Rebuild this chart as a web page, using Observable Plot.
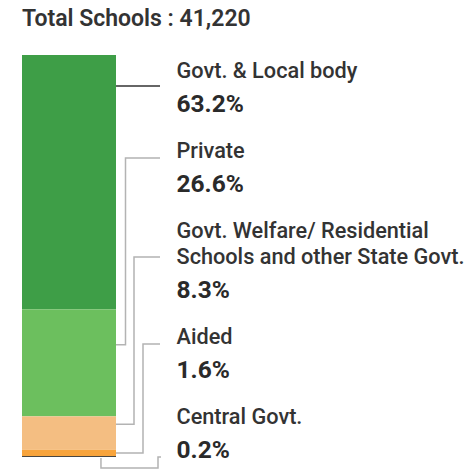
<!DOCTYPE html>
<html>
<head>
<meta charset="utf-8">
<script src="https://cdn.jsdelivr.net/npm/d3@7"></script>
<script src="https://cdn.jsdelivr.net/npm/@observablehq/plot@0.6"></script>
<style>
  body { margin: 0; background: #fff; font-family: Roboto, "Noto Sans", sans-serif; }
  #title { height: 40px; box-sizing: border-box; padding: 7px 0 0 22px; font-size: 23px; font-weight: 600; color: #333; line-height: 1; white-space: nowrap; }
  #chart svg { display: block; }
</style>
</head>
<body>
<div id="title"></div>
<div id="chart"></div>
<script>
// ---- data ----
const titleText = "Total Schools : 41,220";
const barName = "Total Schools";
const categories = [
  "Govt. & Local body",
  "Private",
  "Govt. Welfare/ Residential\nSchools and other State Govt.",
  "Aided",
  "Central Govt."
];
const shares = [63.2, 26.6, 8.3, 1.6, 0.2];

// ---- styles ----
const colors = ["#3e9e47", "#6cbf5e", "#f4be82", "#f8a43c", "#1f1f1f"];

// ---- layout (pixels) ----
const W = 470, H = 429;
const M = {top: 15, right: 354, bottom: 12, left: 22};
const labelX = 176;          // text start
const firstBaseline = 37;    // first label name baseline (svg coords)
const blockStep = 80, lineStep = 26, valueGap = 34;
const nameSize = 21.7, valueSize = 24.5;
// leader routing: attach = fraction down the segment; elbow = px right of bar; anchorDy = px below label's first baseline
const leaderRoute = [
  {attach: 0.12, elbow: null, anchorDy: 9, stroke: "#333"},
  {attach: 0.33, elbow: 9.5, anchorDy: 1, stroke: "#b3b3b3"},
  {attach: 0.24, elbow: 18, anchorDy: 20, stroke: "#b3b3b3"},
  {attach: 0.5, elbow: 27, anchorDy: 1, stroke: "#b3b3b3"},
  {bracket: true, from: 0.84, drop: 10, elbow: 42, anchorDy: 34, stroke: "#b3b3b3"}
];

document.getElementById("title").textContent = titleText;

const table = categories.map((c, i) => ({category: c, share: shares[i], bar: barName}));
const total = d3.sum(shares);
const cum = d3.cumsum(shares);

// label layout
let cursor = firstBaseline;
const labels = table.map((d) => {
  const n = d.category.split("\n").length;
  const first = cursor;
  const last = first + (n - 1) * lineStep;
  cursor = first + blockStep + (n - 1) * lineStep;
  return {d, first, last, value: last + valueGap};
});

const textMarks = labels.flatMap(({d, last, value}) => [
  Plot.text([d], {
    text: "category", frameAnchor: "top-left", textAnchor: "start", lineAnchor: "bottom",
    dx: labelX - M.left, dy: last - M.top, lineHeight: lineStep / nameSize,
    fontSize: nameSize, fontWeight: 500, fill: "#333"
  }),
  Plot.text([d], {
    text: (r) => r.share.toFixed(1) + "%", frameAnchor: "top-left", textAnchor: "start", lineAnchor: "bottom",
    dx: labelX - M.left, dy: value - M.top,
    fontSize: valueSize, fontWeight: 700, fill: "#2a2a2a"
  })
]);

function leaders(index, scales) {
  const x = scales.x, y = scales.y;
  const bw = x.bandwidth ? x.bandwidth() : (W - M.left - M.right);
  const barLeft = x(barName);
  const barRight = barLeft + bw;
  const endX = labelX - 16;
  const g = d3.create("svg:g").attr("fill", "none").attr("stroke-width", 1.5);
  const line = d3.line();
  leaderRoute.forEach((r, i) => {
    const top = y(i ? cum[i - 1] : 0), bottom = y(cum[i]);
    const anchorY = labels[i].first + r.anchorDy;
    let pts;
    if (r.bracket) {
      const bx = barLeft + r.from * bw;
      const by = y(total) + 1;
      const ex = barRight + r.elbow;
      pts = [[bx, by], [bx, by + r.drop], [ex, by + r.drop], [ex, anchorY], [endX + 1, anchorY]];
    } else if (r.elbow == null) {
      pts = [[barRight, anchorY], [endX, anchorY]];
    } else {
      const ay = top + r.attach * (bottom - top);
      const ex = barRight + r.elbow;
      pts = [[barRight, ay], [ex, ay], [ex, anchorY], [endX, anchorY]];
    }
    g.append("path").attr("d", line(pts)).attr("stroke", r.stroke);
  });
  return g.node();
}

const chart = Plot.plot({
  width: W, height: H,
  marginTop: M.top, marginRight: M.right, marginBottom: M.bottom, marginLeft: M.left,
  x: {type: "band", domain: [barName], padding: 0, axis: null},
  y: {domain: [0, total], reverse: true, axis: null},
  color: {domain: categories, range: colors},
  style: {fontFamily: "Roboto, 'Noto Sans', sans-serif", background: "#fff"},
  marks: [
    Plot.barY(table, {x: "bar", y: "share", fill: "category", inset: 0}),
    leaders,
    ...textMarks
  ]
});
document.getElementById("chart").appendChild(chart);
</script>
</body>
</html>
